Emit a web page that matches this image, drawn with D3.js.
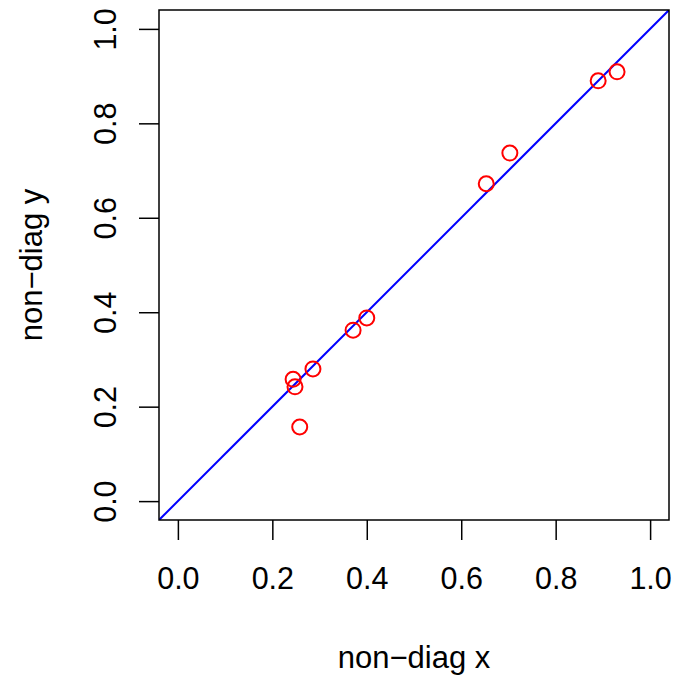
<!DOCTYPE html>
<html><head><meta charset="utf-8">
<script src="https://cdn.jsdelivr.net/npm/d3@7"></script>
<style>body{margin:0;background:#fff}svg{display:block}text{font-family:"Liberation Sans",Arial,sans-serif;fill:#000}</style>
</head><body><svg id="c" width="676" height="675"></svg>
<script>
const xVals = [0.244, 0.248, 0.258, 0.286, 0.371, 0.400, 0.653, 0.703, 0.890, 0.930];
const yVals = [0.258, 0.242, 0.157, 0.280, 0.362, 0.388, 0.672, 0.737, 0.890, 0.909];
const tickVals = [0.0, 0.2, 0.4, 0.6, 0.8, 1.0];
const xTitle = "non\u2212diag x";
const yTitle = "non\u2212diag y";

const L = 159, R = 669, T = 10, B = 520;
const tickFont = 30.5, titleFont = 31;
const svg = d3.select("#c");
const x = d3.scaleLinear().domain([-0.04, 1.04]).range([L, R]);
const y = d3.scaleLinear().domain([-0.04, 1.04]).range([B, T]);

svg.append("defs").append("clipPath").attr("id","clip")
  .append("rect").attr("x",L).attr("y",T).attr("width",R-L).attr("height",B-T);

// x axis
const xa = svg.append("g").attr("transform",`translate(0,${B})`)
  .call(d3.axisBottom(x).tickValues(tickVals).tickFormat(d3.format(".1f")).tickSize(20).tickPadding(0));
xa.select(".domain").remove();
xa.selectAll("line").attr("stroke","#000").attr("stroke-width",1.5);
xa.selectAll("text").style("font-size",tickFont+"px").attr("fill","#000")
  .attr("dy",null).attr("y",69);

// y axis
const ya = svg.append("g").attr("transform",`translate(${L},0)`)
  .call(d3.axisLeft(y).tickValues(tickVals).tickFormat(d3.format(".1f")).tickSize(20).tickPadding(0));
ya.select(".domain").remove();
ya.selectAll("line").attr("stroke","#000").attr("stroke-width",1.5);
ya.selectAll("text").style("font-size",tickFont+"px").attr("fill","#000")
  .attr("text-anchor","middle").attr("dy",null)
  .attr("transform",`translate(-43,0) rotate(-90)`).attr("x",0).attr("y",0);

// diagonal line
svg.append("line").attr("clip-path","url(#clip)")
  .attr("x1",x(-0.04)).attr("y1",y(-0.04)).attr("x2",x(1.04)).attr("y2",y(1.04))
  .attr("stroke","#0000ff").attr("stroke-width",2);

// points
svg.append("g").selectAll("circle").data(xVals).join("circle")
  .attr("cx",(d)=>x(d)).attr("cy",(d,i)=>y(yVals[i])).attr("r",7.5)
  .attr("fill","none").attr("stroke","#ff0000").attr("stroke-width",2);

// box
svg.append("rect").attr("x",L).attr("y",T).attr("width",R-L).attr("height",B-T)
  .attr("fill","none").attr("stroke","#000").attr("stroke-width",1.5);

// titles
svg.append("text").attr("x",(L+R)/2).attr("y",668).attr("text-anchor","middle")
  .style("font-size",titleFont+"px").text(xTitle);
svg.append("text").attr("transform",`translate(42,${(T+B)/2}) rotate(-90)`).attr("text-anchor","middle")
  .style("font-size",titleFont+"px").text(yTitle);
</script></body></html>
